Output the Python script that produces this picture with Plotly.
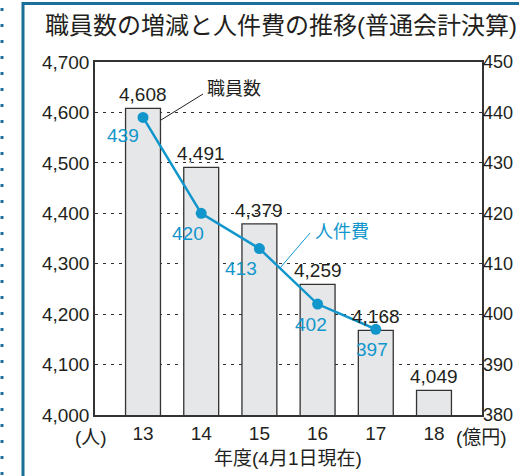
import plotly.graph_objects as go

# ---- data ----
years = [13, 14, 15, 16, 17, 18]
staff = [4608, 4491, 4379, 4259, 4168, 4049]
cost_years = [13, 14, 15, 16, 17]
cost = [439, 420, 413, 402, 397]
staff_ticks = list(range(4000, 4701, 100))
cost_ticks = list(range(380, 451, 10))

title_text = "職員数の増減と人件費の推移(普通会計決算)"
xlabel_text = "年度(4月1日現在)"
left_unit = "(人)"
right_unit = "(億円)"

# ---- layout geometry / style ----
W, H = 519, 476
L, R, T, B = 95, 37, 62, 61
PW, PH = W - L - R, H - T - B


def px(x):
    return (x - L) / PW


def py(y):
    return (H - B - y) / PH


BLUE = "#1196cc"
FRAME = "#1b6f9b"
DARK = "#231f20"
FONT = "Liberation Sans, Arial, Noto Sans CJK JP"
label_shift = [(-20, -18), (-13, -20), (-18, -20), (-7, -20), (-4, -20)]

fig = go.Figure()
fig.add_trace(go.Bar(
    x=years, y=staff, width=0.6,
    marker=dict(color="#e6e7e9", line=dict(color="#333333", width=1.3)),
    yaxis="y", hoverinfo="skip", showlegend=False,
))
fig.add_trace(go.Scatter(
    x=cost_years, y=cost, yaxis="y2", mode="lines+markers",
    line=dict(color=BLUE, width=2.5), marker=dict(color=BLUE, size=11),
    showlegend=False, cliponaxis=False, hoverinfo="skip",
))

ann = []
for x, v in zip(years, staff):
    ann.append(dict(x=x, y=v, xref="x", yref="y", text=f"{v:,}", showarrow=False,
                    xanchor="center", yanchor="bottom", yshift=1,
                    font=dict(size=19, color=DARK)))
for (x, v), (dx, dy) in zip(zip(cost_years, cost), label_shift):
    ann.append(dict(x=x, y=v, xref="x", yref="y2", text=str(v), showarrow=False,
                    xanchor="center", yanchor="middle", xshift=dx, yshift=dy,
                    font=dict(size=19, color=BLUE)))


def pann(x, y, text, size=18, color=DARK, xanchor="center"):
    return dict(x=px(x), y=py(y), xref="paper", yref="paper", text=text, showarrow=False,
                xanchor=xanchor, yanchor="middle", font=dict(size=size, color=color))


ann += [
    pann(43, 26, title_text, size=24, xanchor="left"),
    pann(234, 89, "職員数"),
    pann(342, 232, "人件費", color=BLUE),
    pann(91, 437, left_unit, size=19),
    pann(481, 437, right_unit, size=19),
    pann(288, 458, xlabel_text, size=19),
]

shapes = [
    # frame
    dict(type="line", xref="paper", yref="paper", x0=px(23), x1=px(23), y0=py(2), y1=py(480),
         line=dict(color=FRAME, width=3)),
    dict(type="line", xref="paper", yref="paper", x0=px(22), x1=px(522), y0=py(3.5), y1=py(3.5),
         line=dict(color=FRAME, width=3)),
    dict(type="line", xref="paper", yref="paper", x0=px(2), x1=px(2), y0=py(8), y1=py(480),
         line=dict(color=FRAME, width=3, dash="3px,13px")),
    # leader lines
    dict(type="line", xref="paper", yref="paper", x0=px(161), y0=py(120), x1=px(203), y1=py(94),
         line=dict(color=DARK, width=1)),
    dict(type="line", xref="paper", yref="paper", x0=px(280), y0=py(268), x1=px(310), y1=py(233),
         line=dict(color=BLUE, width=1)),
]

fig.update_layout(
    width=W, height=H,
    margin=dict(l=L, r=R, t=T, b=B, pad=0, autoexpand=False),
    paper_bgcolor="white", plot_bgcolor="white",
    font=dict(family=FONT, size=18, color=DARK),
    xaxis=dict(range=[12.175, 18.825], tickvals=years, ticktext=[str(y) for y in years],
               showgrid=False, zeroline=False, ticks="", showline=True, mirror=True,
               automargin=False,
               linecolor="#333333", linewidth=1.5, tickfont=dict(size=19, color=DARK)),
    yaxis=dict(range=[4000, 4700], tickvals=staff_ticks, tickformat=",d",
               showgrid=True, gridcolor="#333333", gridwidth=1, griddash="3px,5px",
               zeroline=False, ticks="", showline=True, mirror=True, automargin=False,
               linecolor="#333333", linewidth=1.5, tickfont=dict(size=19, color=DARK)),
    yaxis2=dict(range=[380, 450], tickvals=cost_ticks, overlaying="y", side="right",
                showgrid=False, zeroline=False, ticks="", showline=False, automargin=False,
                tickfont=dict(size=18, color=DARK)),
    annotations=ann, shapes=shapes, bargap=0.4, hovermode=False,
)

fig.write_html(
    "out.html",
    config={"displayModeBar": False},
    post_script="document.body.style.margin='0';document.body.style.overflow='hidden';",
)
